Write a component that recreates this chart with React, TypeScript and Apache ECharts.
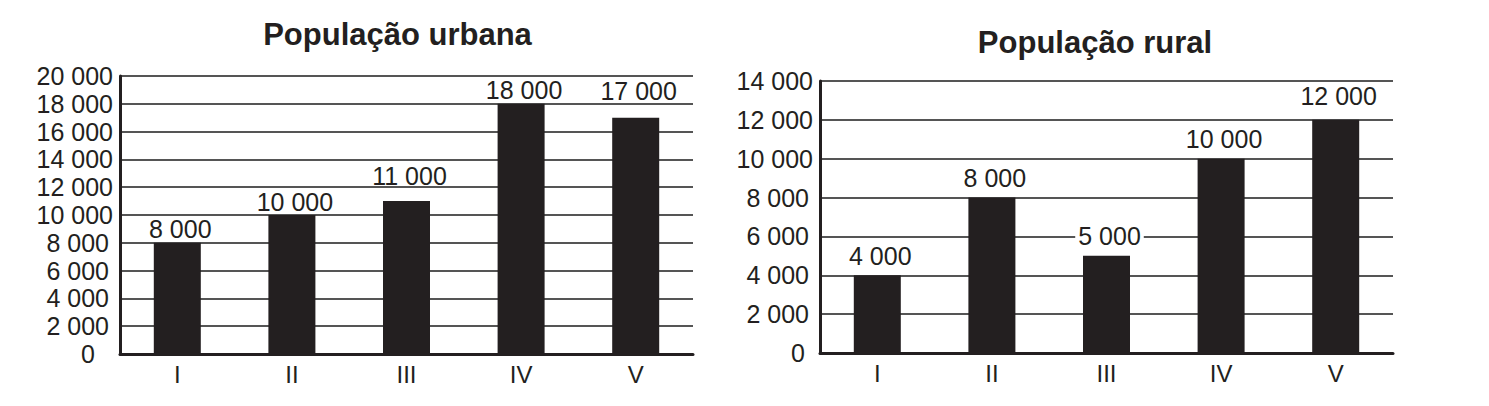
import React, { useEffect, useRef } from "react";
import * as echarts from "echarts";

const categories = ["I", "II", "III", "IV", "V"];
const urbanValues = [8000, 10000, 11000, 18000, 17000];
const ruralValues = [4000, 8000, 5000, 10000, 12000];
const urbanTitle = "População urbana";
const ruralTitle = "População rural";
const urbanMax = 20000;
const ruralMax = 14000;
const tickStep = 2000;

const INK = "#231f20";
const FONT = "'Liberation Sans', Arial, Helvetica, sans-serif";

const fmt = (v: number) => String(v).replace(/\B(?=(\d{3})+(?!\d))/g, " ");

function yFormatter() {
  return (v: number) => {
    if (v === 0) return "{z|0}";
    if (v >= 10000) return "{w|" + fmt(v) + "}";
    return "{n|" + fmt(v) + "}";
  };
}

function yRich(zeroPad: number) {
  const base = { fontSize: 25, fontFamily: FONT, color: INK };
  return {
    w: { ...base },
    n: { ...base, padding: [0, 4, 0, 0] },
    z: { ...base, padding: [0, zeroPad, 0, 0] },
  };
}

export default function App() {
  const ref = useRef<HTMLDivElement>(null);
  useEffect(() => {
    if (!ref.current) return;
    const chart = echarts.init(ref.current, undefined, { renderer: "svg" });
    const xAxisCommon = {
      type: "category" as const,
      data: categories,
      axisTick: { show: false },
      axisLine: { show: true, lineStyle: { color: INK, width: 3 } },
      axisLabel: { fontSize: 24, fontFamily: FONT, color: INK, margin: 8 },
      splitLine: { show: false },
    };
    const yAxisCommon = {
      type: "value" as const,
      min: 0,
      interval: tickStep,
      axisTick: { show: false },
      axisLine: { show: true, lineStyle: { color: INK, width: 3 } },
      splitLine: { show: true, lineStyle: { color: "#555", width: 2 } },
    };
    const makeLabel = (distance: number) => ({
      show: true,
      position: "top" as const,
      distance,
      fontSize: 25,
      fontFamily: FONT,
      color: INK,
      offset: [3, 0],
      formatter: (p: any) => fmt(p.value),
    });
    // extra upward shift of a few value labels, as placed in the original;
    // a label that sits on a grid line gets a white backing so the line stops at it
    const urbanLift = [0, 0, 12, 0, 13];
    const ruralLift = [0, 0, 0, 0, 4];
    const ruralBacked = [false, false, true, false, false];
    const withLift = (values: number[], lift: number[], backed: boolean[]) =>
      values.map((v, i) => {
        if (!lift[i] && !backed[i]) return v;
        const label: any = { offset: [3, -lift[i]] };
        if (backed[i]) {
          label.backgroundColor = "#fff";
          label.padding = [0, 3, 0, 3];
        }
        return { value: v, label };
      });

    chart.setOption({
      animation: false,
      backgroundColor: "#fff",
      graphic: [
        {
          type: "text",
          x: 397.5,
          y: 34.5,
          style: {
            text: urbanTitle,
            font: "bold 31px " + FONT,
            fill: INK,
            textAlign: "center",
            textVerticalAlign: "middle",
          },
        },
        {
          type: "text",
          x: 1095,
          y: 42,
          style: {
            text: ruralTitle,
            font: "bold 31px " + FONT,
            fill: INK,
            textAlign: "center",
            textVerticalAlign: "middle",
          },
        },
      ],
      grid: [
        { left: 120, right: 796, top: 76, bottom: 52 },
        { left: 820, right: 96, top: 81, bottom: 53 },
      ],
      xAxis: [
        { ...xAxisCommon, gridIndex: 0 },
        { ...xAxisCommon, gridIndex: 1 },
      ],
      yAxis: [
        {
          ...yAxisCommon,
          gridIndex: 0,
          max: urbanMax,
          axisLabel: { margin: 7, formatter: yFormatter(), rich: yRich(18) },
        },
        {
          ...yAxisCommon,
          gridIndex: 1,
          max: ruralMax,
          axisLabel: { margin: 7, formatter: yFormatter(), rich: yRich(8) },
        },
      ],
      series: [
        {
          type: "bar",
          xAxisIndex: 0,
          yAxisIndex: 0,
          data: withLift(urbanValues, urbanLift, [false, false, false, false, false]),
          barWidth: 47,
          itemStyle: { color: INK },
          label: makeLabel(1),
        },
        {
          type: "bar",
          xAxisIndex: 1,
          yAxisIndex: 1,
          data: withLift(ruralValues, ruralLift, ruralBacked),
          barWidth: 47,
          itemStyle: { color: INK },
          label: makeLabel(7),
        },
      ],
    });
    return () => chart.dispose();
  }, []);
  return (
    <div
      ref={ref}
      style={{ position: "fixed", left: 0, top: 0, width: 1489, height: 406, background: "#fff" }}
    />
  );
}
